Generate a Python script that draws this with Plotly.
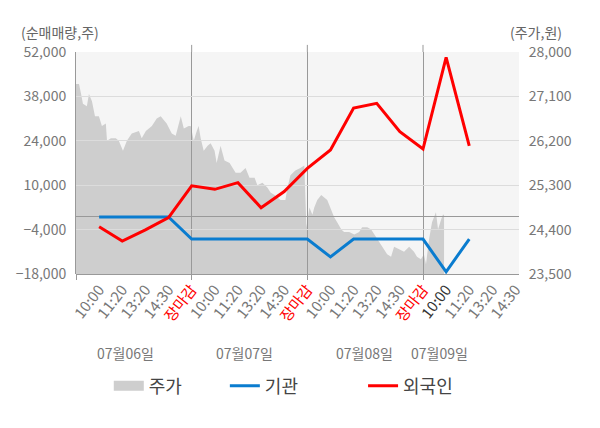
import plotly.graph_objects as go

# x-axis slots: 5 per trading day, the 4th day is still open
tick_labels = ['10:00', '11:20', '13:20', '14:30', '장마감'] * 3 + ['10:00', '11:20', '13:20', '14:30']
day_names = ['07월06일', '07월07일', '07월08일', '07월09일']
day_bounds = [4, 9, 14]

# net buy volume (shares) at each slot
inst_net = [0, 0, 0, 0, -7000, -7000, -7000, -7000, -7000, -7000,
            -12600, -7000, -7000, -7000, -7000, -17300, -7000]
foreign_net = [-3100, -7600, -4100, -200, 9800, 8700, 10800, 2900, 8000, 15300,
               21100, 34300, 35800, 26900, 21400, 50300, 22400]

# intraday price samples (position on the slot axis, won)
price_x = [-1.00, -0.96, -0.87, -0.78, -0.70, -0.53, -0.44, -0.31, -0.18, -0.01,
           0.12, 0.29, 0.34, 0.51, 0.72, 0.85, 1.03, 1.20, 1.41, 1.72,
           1.84, 2.02, 2.28, 2.49, 2.66, 2.92, 3.14, 3.31, 3.53, 3.66, 3.87,
           3.96, 4.09, 4.22, 4.30, 4.39, 4.52, 4.69, 4.82, 4.99, 5.08,
           5.25, 5.42, 5.64, 5.77, 5.90, 6.11, 6.33, 6.50, 6.72, 6.84,
           7.06, 7.28, 7.41, 7.58, 7.84, 8.05, 8.14, 8.27, 8.48, 8.70, 8.87,
           8.96, 9.09, 9.22, 9.30, 9.43, 9.60, 9.73, 9.86, 10.03, 10.16,
           10.29, 10.47, 10.59, 10.81, 11.03, 11.24, 11.37, 11.59, 11.76, 11.97,
           12.10, 12.23, 12.45, 12.62, 12.75, 12.97, 13.18, 13.40, 13.61, 13.74, 13.91,
           14.04, 14.13, 14.26, 14.39, 14.56, 14.65, 14.78, 14.86, 14.91]
price = [27350, 27350, 27350, 27150, 26950, 26900, 27150, 27000, 26700, 26700,
         26500, 26550, 26200, 26250, 26250, 26200, 26000, 26200, 26350, 26400,
         26250, 26400, 26500, 26650, 26700, 26550, 26350, 26300, 26700, 26450, 26500,
         26500, 26200, 26400, 26500, 26250, 26000, 26100, 26150, 26000, 25750,
         26100, 25800, 25750, 25650, 25550, 25550, 25650, 25450, 25450, 25300,
         25350, 25250, 25150, 25100, 25000, 25000, 25250, 25500, 25600, 25650, 25700,
         24450, 24850, 24700, 24850, 25000, 25100, 25050, 25000, 24800, 24650,
         24550, 24400, 24350, 24350, 24300, 24350, 24450, 24450, 24400, 24250,
         24150, 24050, 23900, 23850, 24050, 24000, 23950, 24050, 23950, 23850, 23800,
         23900, 23700, 24200, 24550, 24750, 24400, 24600, 24700, 24700]

FONT = 'Noto Sans CJK KR'
PRICE_GRAY = '#cecece'
x_range = [-1, 18.15]

fig = go.Figure()

# price area on the first subplot (right axis)
fig.add_trace(go.Scatter(x=price_x, y=price, mode='lines', name='주가',
                         line=dict(width=0, color=PRICE_GRAY), fill='tozeroy',
                         fillcolor=PRICE_GRAY, xaxis='x', yaxis='y',
                         showlegend=False, hoverinfo='skip'))
# legend swatch for the price area (a chunky block like the original)
fig.add_trace(go.Scatter(x=[None], y=[None], mode='lines', name='주가',
                         line=dict(width=13, color=PRICE_GRAY),
                         xaxis='x', yaxis='y', legend='legend'))

# net buying lines on a second subplot drawn on top (left axis, with grid)
slots = list(range(len(inst_net)))
fig.add_trace(go.Scatter(x=slots, y=inst_net, mode='lines', name='기관',
                         line=dict(color='#0a7ccf', width=3),
                         xaxis='x2', yaxis='y2', legend='legend2'))
fig.add_trace(go.Scatter(x=slots, y=foreign_net, mode='lines', name='외국인',
                         line=dict(color='#ff0000', width=3),
                         xaxis='x2', yaxis='y2', legend='legend3'))

ticktext = []
for i, t in enumerate(tick_labels):
    if t == '장마감':
        ticktext.append('<span style="color:#ff0000">%s</span>' % t)
    elif i == 15:
        ticktext.append('<span style="color:#333333">%s</span>' % t)
    else:
        ticktext.append(t)

tick_font = dict(family=FONT, size=14, color='#777777')
legend_font = dict(family=FONT, size=18, color='#444444')

# page body has an 8px margin, so the figure is a bit smaller than the window
fig.update_layout(
    width=592, height=420,
    margin=dict(l=68, r=81, t=44, b=154),
    paper_bgcolor='white',
    plot_bgcolor='rgba(0,0,0,0)',
    font=dict(family=FONT, color='#666666'),
    showlegend=True,
    xaxis=dict(domain=[0, 1], anchor='y', range=x_range,
               tickmode='array', tickvals=list(range(len(tick_labels))),
               ticktext=ticktext, tickangle=-52,
               tickfont=dict(family=FONT, size=15, color='#777777'),
               ticks='', showgrid=False, zeroline=False,
               showline=True, linecolor='#999999', automargin=False),
    xaxis2=dict(domain=[0, 1], anchor='y2', range=x_range,
                tickmode='array', tickvals=[-1] + day_bounds,
                showticklabels=False, ticks='outside', ticklen=5,
                tickcolor='#999999', showgrid=True, gridcolor='#999999',
                gridwidth=1, zeroline=False, showline=False, automargin=False),
    yaxis=dict(domain=[0, 1], anchor='x', side='right', range=[23500, 28000],
               tickmode='array', tickvals=list(range(23500, 28001, 900)),
               tickformat=',', tickfont=tick_font, showgrid=False,
               zeroline=False, ticks='outside', ticklen=6,
               tickcolor='rgba(0,0,0,0)', automargin=False),
    yaxis2=dict(domain=[0, 1], anchor='x2', side='left', range=[-18000, 52000],
                tickmode='array', tickvals=list(range(-18000, 52001, 14000)),
                tickformat=',', tickfont=tick_font, showgrid=True,
                gridcolor='#dcdcdc', gridwidth=1,
                zeroline=True, zerolinecolor='#999999', zerolinewidth=1,
                showline=True, linecolor='#999999',
                ticks='outside', ticklen=6, tickcolor='rgba(0,0,0,0)',
                automargin=False),
    legend=dict(orientation='h', x=0.074, y=-0.505, xanchor='left', yanchor='middle',
                font=legend_font, bgcolor='rgba(0,0,0,0)'),
    legend2=dict(orientation='h', x=0.336, y=-0.505, xanchor='left', yanchor='middle',
                 font=legend_font, bgcolor='rgba(0,0,0,0)'),
    legend3=dict(orientation='h', x=0.648, y=-0.505, xanchor='left', yanchor='middle',
                 font=legend_font, bgcolor='rgba(0,0,0,0)'),
    hovermode=False,
)

# plot area background
fig.add_shape(type='rect', xref='paper', yref='paper', x0=0, x1=1, y0=0, y1=1,
              fillcolor='#f5f5f5', line=dict(width=0), layer='below')

# day dividers poke a little above the plot
for b in day_bounds:
    fig.add_shape(type='line', xref='x', yref='paper', x0=b, x1=b, y0=1, y1=1.032,
                  line=dict(color='#999999', width=1), layer='above')

# date labels under the time ticks
day_label_pos = [1.12, 6.29, 11.47, 14.7]
for name, pos in zip(day_names, day_label_pos):
    fig.add_annotation(x=pos, y=-0.356, xref='x', yref='paper', text=name,
                       showarrow=False, xanchor='center', yanchor='middle',
                       font=dict(family=FONT, size=14, color='#777777'))

fig.add_annotation(x=-0.036, y=1.088, xref='paper', yref='paper', text='(순매매량,주)',
                   showarrow=False, xanchor='center', yanchor='middle',
                   font=dict(family=FONT, size=14, color='#666666'))
fig.add_annotation(x=1.038, y=1.088, xref='paper', yref='paper', text='(주가,원)',
                   showarrow=False, xanchor='center', yanchor='middle',
                   font=dict(family=FONT, size=14, color='#666666'))

fig.write_html('out.html')
